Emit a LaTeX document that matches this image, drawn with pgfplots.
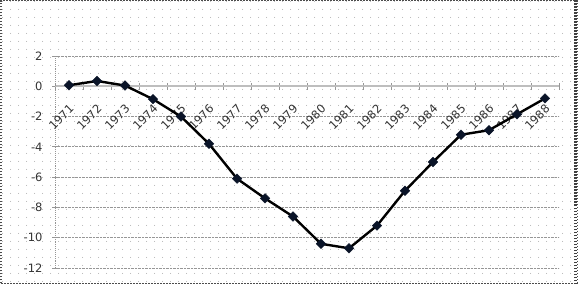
\documentclass[border=0pt]{standalone}
\usepackage{pgfplots}
\pgfplotsset{compat=1.18}
\usepackage{fontspec}
\setmainfont{DejaVu Sans}
\usetikzlibrary{patterns.meta}
\tikzdeclarepattern{name=exceldots, type=uncolored,
  bounding box={(0pt,0pt) and (8pt,8pt)}, tile size={(8pt,8pt)},
  code={\fill (4pt,4pt) circle (0.55pt);}}
\definecolor{gridgray}{RGB}{150,150,150}
\definecolor{axisgray}{RGB}{190,190,190}
\definecolor{markblue}{RGB}{10,20,40}
\begin{document}
\begin{tikzpicture}
\useasboundingbox (0,0) rectangle (578pt,284pt);
\fill[white] (0,0) rectangle (578pt,284pt);
\fill[pattern=exceldots, pattern color=black!35] (0,0) rectangle (578pt,284pt);
\begin{axis}[
  at={(55pt,16pt)}, anchor=south west,
  scale only axis, width=504pt, height=212pt,
  xmin=-0.5, xmax=17.5, ymin=-12, ymax=2,
  axis x line=middle, axis y line=left,
  x axis line style={-, axisgray, line width=1.6pt},
  y axis line style={-, gridgray, densely dotted, line width=0.9pt},
  xtick={0,...,17},
  xticklabels={1971,1972,1973,1974,1975,1976,1977,1978,1979,1980,1981,1982,1983,1984,1985,1986,1987,1988},
  minor xtick={-0.5,0.5,...,17.5},
  major x tick style={draw=none},
  minor x tick style={gridgray, line width=0.6pt},
  minor tick length=7pt,
  ytick={-12,-10,...,2},
  y tick style={gridgray, densely dotted, line width=0.9pt},
  major tick length=6pt,
  ymajorgrids,
  major grid style={gridgray, densely dotted, line width=0.9pt},
  tick label style={font=\fontsize{11.5}{13}\selectfont, black!80},
  xticklabel style={xshift=5pt, yshift=-15pt, rotate=45, anchor=east},
  yticklabel style={xshift=-6pt},
  /pgf/number format/assume math mode=true,
  clip=false,
]
\addplot[black, line width=2.4pt, mark=square*, mark size=3.4pt,
  mark options={fill=markblue, draw=markblue, line width=0.4pt, rotate=45}]
  coordinates {
  (0,0.07) (1,0.35) (2,0.05) (3,-0.85) (4,-2.0) (5,-3.8) (6,-6.1) (7,-7.4)
  (8,-8.6) (9,-10.4) (10,-10.7) (11,-9.2) (12,-6.9) (13,-5.0) (14,-3.2)
  (15,-2.9) (16,-1.85) (17,-0.8)};
\end{axis}
\draw[black!70, line width=1.5pt, dash pattern=on 1.5pt off 1.5pt] (0.75pt,0.75pt) rectangle (577.25pt,283.25pt);
\draw[black!75, line width=2.5pt, dash pattern=on 1.5pt off 1.5pt] (575.5pt,0pt) -- (575.5pt,284pt);
\end{tikzpicture}
\end{document}
